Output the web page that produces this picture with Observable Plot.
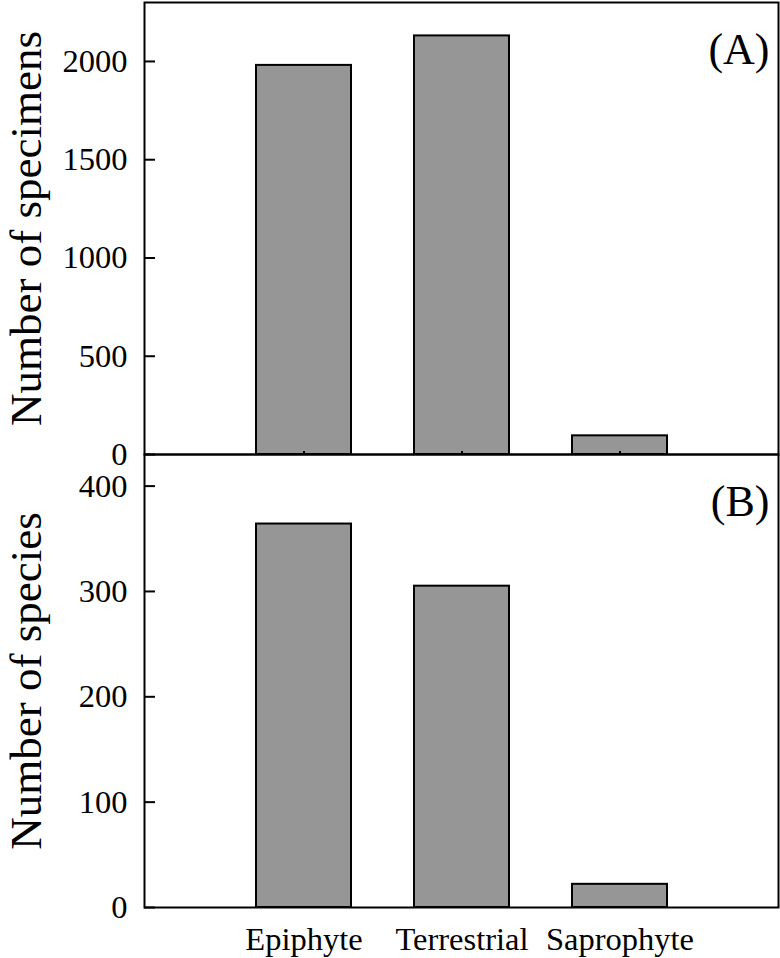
<!DOCTYPE html>
<html>
<head>
<meta charset="utf-8">
<script src="https://cdn.jsdelivr.net/npm/d3@7"></script>
<script src="https://cdn.jsdelivr.net/npm/@observablehq/plot@0.6"></script>
<style>
  html, body { margin: 0; padding: 0; background: white; }
  #chart svg { display: block; overflow: visible; }
</style>
</head>
<body>
<div id="chart"></div>
<script>
// ---- data ----
const categories = ["Epiphyte", "Terrestrial", "Saprophyte"];
const specimens = [1980, 2130, 95];
const species = [364, 305, 22];
const specimenTicks = [0, 500, 1000, 1500, 2000];
const speciesTicks = [0, 100, 200, 300, 400];
const panelLabels = ["(A)", "(B)"];
const yTitles = ["Number of specimens", "Number of species"];

const FONT = "'Liberation Serif', 'Times New Roman', serif";
const W = 780;
const mLeft = 144, mRight = 2;
const frameW = W - mLeft - mRight;
const TICK_FS = 32.5;

function panel({values, ticks, ymax, height, marginTop, marginBottom, label, title, showX}) {
  const data = categories.map((c, i) => ({cat: c, value: values[i]}));
  const frameH = height - marginTop - marginBottom;
  return Plot.plot({
    width: W,
    height,
    marginLeft: mLeft,
    marginRight: mRight,
    marginTop,
    marginBottom,
    style: {fontFamily: FONT, fontSize: TICK_FS + "px", color: "black", background: "white"},
    x: {domain: categories, paddingInner: 0.4, paddingOuter: 0.7},
    y: {domain: [0, ymax]},
    marks: [
      Plot.barY(data, {x: "cat", y: "value", fill: "#969696", stroke: "black", strokeWidth: 2}),
      // inward y tick marks
      Plot.tickY(ticks, {y: d => d, stroke: "black", strokeWidth: 2, insetRight: frameW - 11}),
      // small inward x ticks at category centres
      showX ? null : Plot.tickX(categories, {x: d => d, stroke: "black", strokeWidth: 2, insetTop: frameH - 3}),
      Plot.axisY({ticks, tickSize: 0, tickPadding: 17, tickFormat: d => String(d), label: null, fontSize: TICK_FS}),
      showX
        ? Plot.axisX({tickSize: 0, tickPadding: 19, label: null, fontSize: TICK_FS})
        : Plot.axisX({tickSize: 0, text: null, label: null}),
      Plot.text([title], {frameAnchor: "left", rotate: -90, dx: -104, lineAnchor: "bottom", textAnchor: "middle", fontSize: 45, text: d => d}),
      Plot.text([label], {frameAnchor: "top-right", dx: -9, dy: 61, lineAnchor: "bottom", textAnchor: "end", fontSize: 44, text: d => d}),
      Plot.frame({stroke: "black", strokeWidth: 2})
    ]
  });
}

const a = panel({values: specimens, ticks: specimenTicks, ymax: 2300, height: 455, marginTop: 2, marginBottom: 1,
  label: panelLabels[0], title: yTitles[0], showX: false});
const b = panel({values: species, ticks: speciesTicks, ymax: 430, height: 505, marginTop: 1, marginBottom: 51,
  label: panelLabels[1], title: yTitles[1], showX: true});
b.style.marginTop = "-2px";
const root = document.getElementById("chart");
root.appendChild(a);
root.appendChild(b);
</script>
</body>
</html>
